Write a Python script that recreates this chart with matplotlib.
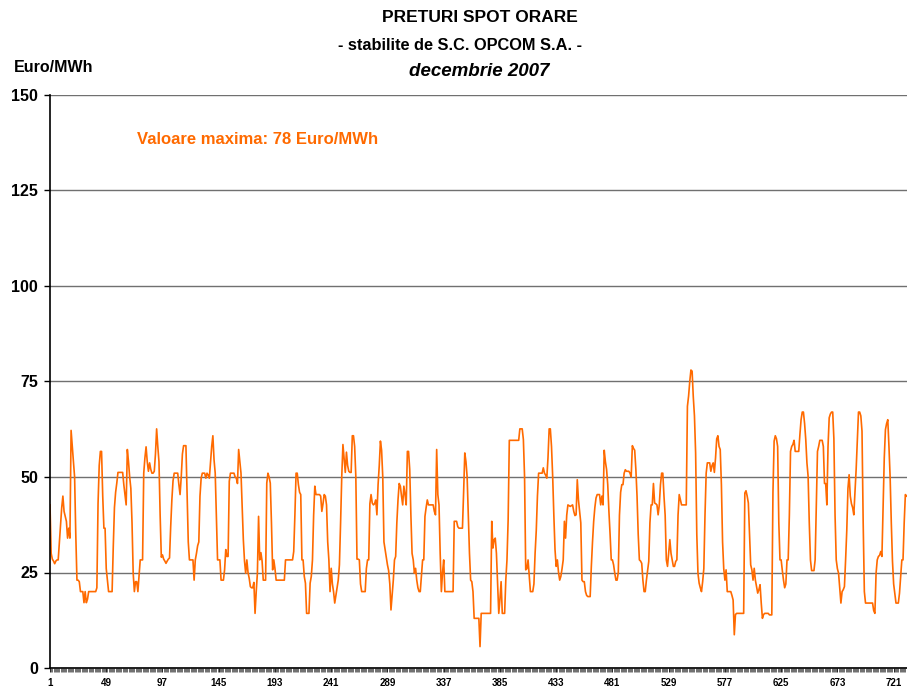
import matplotlib
matplotlib.use('Agg')
import matplotlib.pyplot as plt
import numpy as np

plt.rcParams['font.family'] = ['Liberation Sans', 'DejaVu Sans']

# Hourly spot prices (Euro/MWh), December 2007, one list per day (visible part)
d01 = [42.7, 30, 28.5, 28, 27.3, 28, 28.3, 28.3, 33, 38, 42, 45, 41, 39.7, 38.4, 34, 36.6, 34, 62.2, 58, 54, 50, 35, 23]
d02 = [23, 22.6, 20, 20, 20, 17.1, 20, 17.1, 18, 20, 20, 20, 20, 20, 20, 20, 21, 43, 53, 56.7, 56.7, 45, 36.6, 36.6]
d03 = [26, 23, 20, 20, 20, 20, 31.8, 42, 46, 48.4, 51.2, 51.2, 51.2, 51.2, 51.2, 48, 45.4, 42.7, 57.2, 54, 50, 47, 38, 24.8]
d04 = [20, 22.6, 22.6, 20, 24, 28.3, 28.3, 28.3, 51, 55, 57.9, 54, 51.5, 53.7, 52, 51, 51, 51.5, 56, 62.6, 58, 54, 40, 29]
d05 = [29.6, 28.5, 28, 27.4, 28, 28.5, 28.8, 37, 44, 49, 51, 51, 51, 51, 48, 45.4, 50, 56, 58.2, 58.2, 58.2, 45, 33, 28.3]
d06 = [28.3, 28.3, 28.3, 23, 28.3, 30, 32, 33, 45, 49.7, 51, 51, 51, 49.7, 51, 50.5, 49.7, 53.7, 58, 60.8, 54.5, 51, 40, 28.3]
d07 = [28.3, 28.3, 23, 23, 23, 25.7, 31, 29.2, 29.2, 48.9, 51, 51, 51, 51, 50, 49.7, 48.3, 57.2, 54, 51, 42, 33.6, 28, 24.8]
d08 = [28.3, 25, 23.5, 21.3, 21, 21, 22.4, 14.3, 20, 24.8, 39.7, 28.3, 30.2, 28, 23, 23, 23, 48.4, 51, 50, 48.4, 38, 25.7, 28.3]
d09 = [26, 23, 23, 23, 23, 23, 23, 23, 23, 28.3, 28.3, 28.3, 28.3, 28.3, 28.3, 28.3, 30.5, 40, 51, 51, 48, 46, 45.4, 28.3]
d10 = [28.3, 24, 22.2, 14.3, 14.3, 14.3, 22.2, 24, 28.3, 40, 47.6, 45.4, 45.4, 45.4, 45.4, 45, 41, 43, 45.4, 45, 42.7, 33, 28.3, 20]
d11 = [26.1, 22, 20, 17, 19, 21, 23, 27, 38, 50.2, 58.5, 55, 51.2, 56.5, 53, 51.5, 51.2, 51.2, 60.8, 60.8, 58, 50.2, 28.5, 28.5]
d12 = [28.3, 22, 20, 20, 20, 20, 26, 28.3, 28.3, 43, 45.4, 43.2, 42.7, 43, 44, 40.1, 48, 53, 59.4, 57, 50, 33, 31, 29]
d13 = [27, 25.5, 22, 15.2, 19, 23, 28.3, 29.2, 38, 44, 48.3, 47.6, 45, 42.7, 47.6, 45.4, 42.7, 56.7, 56.7, 52, 40, 30, 28.3, 24.8]
d14 = [26.1, 23, 21, 20, 20, 24, 28.3, 28.3, 39.7, 42, 44, 42.7, 42.7, 42.7, 42.7, 42.7, 41, 40.1, 57.2, 45.4, 42.7, 30, 20, 25]
d15 = [28.3, 20, 20, 20, 20, 20, 20, 20, 20, 38.4, 38.4, 38.4, 37, 36.6, 36.6, 36.6, 36.6, 46, 56.3, 54, 50, 40, 30, 23]
d16 = [22.6, 20, 13, 13, 13, 13, 13, 5.6, 14.3, 14.3, 14.3, 14.3, 14.3, 14.3, 14.3, 14.3, 14.3, 38.4, 31.4, 33.6, 34, 30, 22, 14.3]
d17 = [18, 22.6, 14.3, 14.3, 14.3, 23, 28.3, 38.8, 59.6, 59.6, 59.6, 59.6, 59.6, 59.6, 59.6, 59.6, 59.6, 62.6, 62.6, 62.6, 59.8, 50.2, 25.7, 26]
d18 = [28.3, 24, 20, 20, 20, 22, 30, 36, 45, 51, 51, 51, 51, 52.4, 51, 50.5, 49.7, 55, 62.6, 62.6, 58, 50.2, 40, 31]
d19 = [26.6, 28.3, 25, 23, 24, 26, 28.3, 38.4, 34, 40, 42.7, 42.5, 42.3, 42.5, 42.7, 41, 39.9, 40.1, 49.3, 44, 41, 38, 23, 22.6]
d20 = [22.6, 20, 19, 18.7, 18.7, 18.7, 26.6, 33, 38.4, 42, 44.5, 45.4, 45.4, 45.4, 42.7, 45, 42.7, 57, 54, 52, 48, 41, 35, 28.3]
d21 = [28.3, 27, 24.8, 23, 23, 25, 40, 46, 48, 48, 51, 51.9, 51.5, 51.5, 51.5, 51, 50, 58.2, 57.5, 57, 52, 45, 35, 28.3]
d22 = [28, 27.4, 23, 20, 20, 23, 25.5, 27.9, 38, 42.7, 42.7, 48.3, 43.2, 43, 42.7, 40.1, 42.7, 48, 51, 51, 45, 40, 28.3, 26.6]
d23 = [30, 33.6, 30, 28.3, 26.6, 26.6, 27.9, 28.3, 40, 45.4, 44, 42.7, 42.7, 42.7, 42.7, 42.7, 68.5, 71.2, 75, 78, 77.7, 71, 66, 56.3]
d24 = [35, 24.8, 22.2, 21, 20, 22.6, 26, 40, 51, 53.7, 53.7, 53.7, 51.5, 53, 53.7, 51.2, 55, 60, 60.8, 58, 57.2, 48, 33, 26]
d25 = [23, 25.7, 20, 20, 20, 20, 19, 17.8, 8.7, 14, 14.3, 14.3, 14.3, 14.3, 14.3, 14.3, 14.3, 45.8, 46.4, 45, 43.2, 35, 27, 25.7]
d26 = [23, 26.1, 23, 21.3, 19.6, 20.5, 21.8, 17, 13, 14, 14.3, 14.3, 14.3, 14.3, 13.9, 13.9, 13.9, 46, 59.4, 60.8, 60, 58, 38, 28.3]
d27 = [28.3, 25.5, 23, 21, 22, 28.3, 28.3, 40, 56.7, 58, 58.5, 59.6, 56.7, 56.7, 56.7, 56.7, 61.1, 65, 67, 67, 64, 59.8, 53.7, 50.2]
d28 = [38, 28.3, 25.5, 25.5, 25.5, 28.3, 42, 56.7, 58, 59.6, 59.6, 59.6, 58, 48.3, 48.3, 42.7, 58, 65.5, 66.5, 67, 67, 60, 40, 28.3]
d29 = [26, 24.8, 21, 17, 20, 20.5, 21.3, 28.3, 36, 47, 50.6, 45, 43, 42, 40.1, 46, 52, 59.8, 67, 67, 66, 62, 38, 20]
d30 = [17, 17, 17, 17, 17, 17, 17, 15, 14.3, 24.8, 28.3, 29.2, 29.5, 30.5, 29.2, 42, 55, 62.4, 64, 65, 58, 50, 38, 28]
d31 = [22, 19.6, 17, 17, 17, 19.6, 24, 28.3, 28.3, 38, 45.4, 45]

days = [d01, d02, d03, d04, d05, d06, d07, d08, d09, d10, d11, d12, d13, d14, d15, d16,
        d17, d18, d19, d20, d21, d22, d23, d24, d25, d26, d27, d28, d29, d30, d31]
prices = [v for d in days for v in d]
hours = np.arange(1, len(prices) + 1)

xtick_labels = ['1', '49', '97', '145', '193', '241', '289', '337', '385', '433',
                '481', '529', '577', '625', '673', '721']
ytick_values = [0, 25, 50, 75, 100, 125, 150]

title_lines = ['PRETURI SPOT ORARE', '- stabilite de S.C. OPCOM S.A. -', 'decembrie 2007']
y_unit = 'Euro/MWh'
max_note = 'Valoare maxima: 78 Euro/MWh'

line_color = '#FF6A00'

fig = plt.figure(figsize=(9.07, 6.88), dpi=100)
ax = fig.add_axes([50 / 907, 20 / 688, 857 / 907, 573 / 688])

ax.plot(hours, prices, color=line_color, lw=1.2, solid_joinstyle='round')

ax.set_xlim(1, 732.4)
ax.set_ylim(0, 150)

ax.set_yticks(ytick_values)
ax.set_yticklabels([str(v) for v in ytick_values], fontsize=11.5, fontweight='bold')
ax.yaxis.grid(True, color='#707070', lw=1.0)
ax.set_axisbelow(True)

xt = [int(s) for s in xtick_labels]
ax.set_xticks(xt)
ax.set_xticklabels(xtick_labels, fontsize=7, fontweight='bold')
ax.set_xticks(hours, minor=True)

ax.tick_params(axis='y', direction='out', length=4, width=1, pad=4.5, colors='black')
ax.tick_params(axis='x', which='major', direction='out', length=3, width=0.6, pad=4.5)
ax.tick_params(axis='x', which='minor', direction='out', length=3, width=0.4)

for s in ['top', 'right']:
    ax.spines[s].set_visible(False)
for s in ['left', 'bottom']:
    ax.spines[s].set_color('black')
    ax.spines[s].set_linewidth(1.2)

fig.text(480 / 907, 1 - 18 / 688, title_lines[0], ha='center', va='center', fontsize=12.5, fontweight='bold')
fig.text(460 / 907, 1 - 45 / 688, title_lines[1], ha='center', va='center', fontsize=11.8, fontweight='bold')
fig.text(479 / 907, 1 - 72 / 688, title_lines[2], ha='center', va='center', fontsize=13.5, fontweight='bold', style='italic')
fig.text(14 / 907, 1 - 67 / 688, y_unit, ha='left', va='center', fontsize=11.5, fontweight='bold')
fig.text(137 / 907, 1 - 140 / 688, max_note, ha='left', va='center', fontsize=12, fontweight='bold', color=line_color)

fig.savefig('out.png', dpi=100)
